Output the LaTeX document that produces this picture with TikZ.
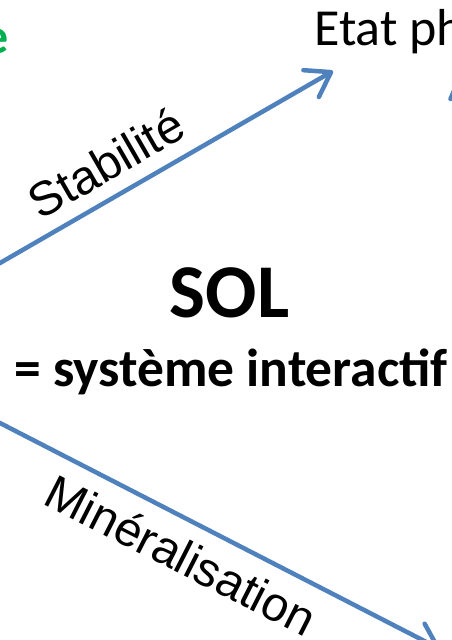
\documentclass[tikz,border=0pt]{standalone}
\usepackage{fontspec}
\setmainfont{Carlito}
\newfontfamily\arialf{Liberation Sans}
\usetikzlibrary{arrows.meta}
\definecolor{arrowblue}{RGB}{79,129,189}
\definecolor{titlegreen}{RGB}{0,176,80}
\begin{document}
\begin{tikzpicture}[x=1pt,y=1pt,
  flow/.style={draw=arrowblue,line width=4.5pt,line cap=round,
    -{Straight Barb[length=23pt,width=31pt,round]}},
  stub/.style={draw=arrowblue,line width=4.5pt,line cap=round},
  lbl/.style={inner sep=0pt,font=\arialf\fontsize{48}{52}\selectfont},
  txt/.style={inner sep=0pt}]
\useasboundingbox (0,0) rectangle (452,640);
\clip (0,0) rectangle (452,640);
% text
\node[txt,anchor=base,font=\bfseries\fontsize{76}{80}\selectfont] (sol) at (229.5,322) {SOL};
\node[txt,anchor=base,font=\bfseries\fontsize{53.5}{58}\selectfont] (sys) at (231,253) {= système interactif};
\node[txt,anchor=base west,font=\fontsize{52}{56}\selectfont] (etat) at (314,594) {Etat ph};
\node[txt,anchor=base east,text=titlegreen,font=\bfseries\fontsize{50}{54}\selectfont] (green) at (9,586) {e};
\node[lbl,rotate=30] (stab) at (106,477) {Stabilité};
\node[lbl,rotate=-27] (mine) at (181,85) {Minéralisation};
% connectors
\coordinate (a1) at (-10,371.2);
\coordinate (a2) at (333,569);
\coordinate (b1) at (-10,222.1);
\coordinate (b2) at (440,-9);
\coordinate (c1) at (456,554);
\coordinate (c2) at (450.5,541);
\draw[flow] (a1) -- (a2);
\draw[flow] (b1) -- (b2);
\draw[stub] (c1) -- (c2);
\end{tikzpicture}
\end{document}
